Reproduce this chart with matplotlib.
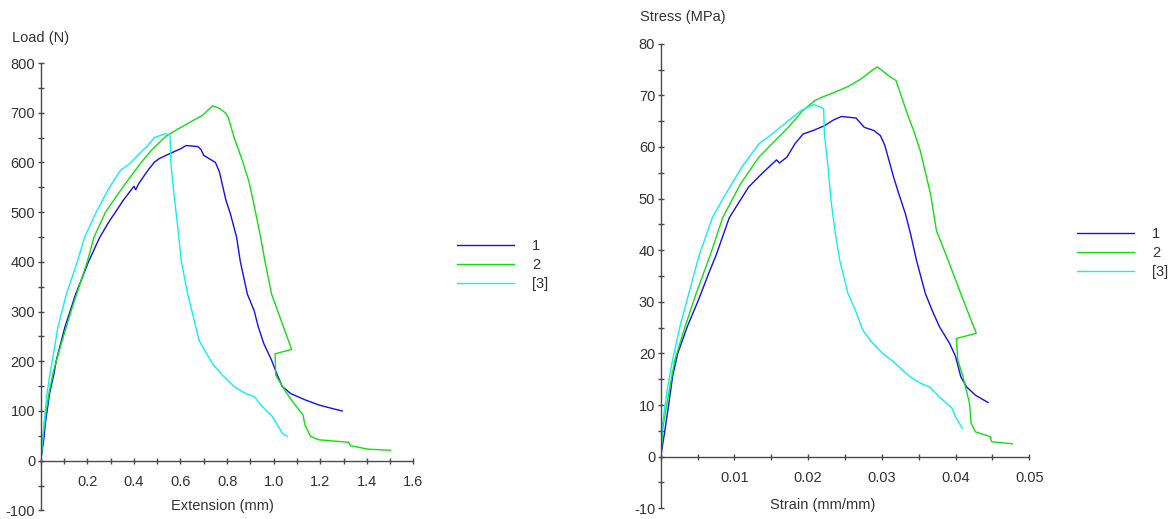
import matplotlib
matplotlib.use("Agg")
import matplotlib.pyplot as plt
from matplotlib.ticker import MultipleLocator

plt.rcParams['font.family'] = ['Liberation Sans', 'DejaVu Sans']
plt.rcParams['font.size'] = 10.5

# curva carga x extensao (3 corpos de prova)
ext1 = [0, 0.013, 0.02, 0.038, 0.057, 0.067, 0.104, 0.15, 0.205, 0.253, 0.296, 0.321, 0.353, 0.40, 0.408, 0.42,
        0.46, 0.489, 0.51, 0.555, 0.603, 0.624, 0.674, 0.688, 0.70, 0.75, 0.767, 0.795, 0.814, 0.841, 0.857, 0.887,
        0.916, 0.934, 0.958, 0.991, 1.013, 1.037, 1.073, 1.137, 1.194, 1.251, 1.294]
load1 = [0, 42, 75, 135, 175, 202, 269, 335, 400, 449, 483, 500, 523, 552, 545, 557,
         584, 601, 608, 618, 628, 634, 632, 626, 614, 600, 581, 524, 497, 449, 400, 335,
         302, 269, 235, 202, 175, 149, 135, 122, 112, 105, 100]

ext2 = [0, 0.003, 0.01, 0.024, 0.038, 0.056, 0.088, 0.131, 0.178, 0.20, 0.228, 0.278, 0.331, 0.374, 0.431, 0.474,
        0.538, 0.581, 0.645, 0.695, 0.738, 0.766, 0.792, 0.806, 0.83, 0.866, 0.894, 0.916, 0.944, 0.963, 0.991,
        1.077, 1.006, 1.009, 1.051, 1.087, 1.126, 1.134, 1.158, 1.194, 1.322, 1.33, 1.408, 1.501]
load2 = [0, 9, 49, 102, 142, 182, 235, 302, 369, 400, 449, 500, 536, 564, 600, 624,
         653, 665, 682, 695, 714, 709, 700, 689, 650, 603, 561, 514, 449, 400, 335,
         224, 215, 172, 139, 115, 92, 72, 49, 42, 37, 30, 23, 21]

ext3 = [0, 0.013, 0.027, 0.038, 0.05, 0.074, 0.11, 0.157, 0.188, 0.238, 0.295, 0.342, 0.381, 0.424, 0.459, 0.488,
        0.535, 0.555, 0.559, 0.569, 0.585, 0.604, 0.631, 0.659, 0.68, 0.695, 0.738, 0.78, 0.83, 0.88, 0.916,
        0.951, 0.994, 1.016, 1.037, 1.058]
load3 = [0, 69, 135, 169, 202, 269, 335, 400, 449, 500, 550, 584, 597, 618, 634, 650,
         658, 655, 597, 550, 483, 400, 335, 282, 242, 229, 195, 172, 149, 135, 129,
         109, 89, 72, 55, 49]

# curva tensao x deformacao
strain1 = [0, 0.0005, 0.0011, 0.0016, 0.0023, 0.0036, 0.0051, 0.0065, 0.0075, 0.0093, 0.0119, 0.0137, 0.0157,
           0.0161, 0.0171, 0.0182, 0.0193, 0.0207, 0.0222, 0.0234, 0.0245, 0.0265, 0.0276, 0.0289, 0.0298, 0.0304,
           0.0316, 0.0323, 0.0332, 0.0339, 0.0347, 0.0359, 0.0368, 0.0378, 0.0392, 0.04, 0.0407, 0.0415, 0.0427,
           0.0444]
stress1 = [0, 4.5, 10.3, 15.5, 20, 25.2, 30.3, 35.5, 39, 46.3, 52.2, 54.8, 57.5,
           56.9, 58, 60.6, 62.5, 63.2, 64.1, 65.2, 65.9, 65.6, 63.8, 63.2, 62.2, 60.3,
           54.1, 50.9, 47, 43.1, 38, 31.6, 28.4, 25.2, 21.9, 19.4, 15.5, 13.5, 11.9,
           10.5]

strain2 = [0, 0.0003, 0.0011, 0.0019, 0.0033, 0.0048, 0.0067, 0.0084, 0.0108, 0.0133, 0.0155, 0.0173, 0.0193,
           0.0209, 0.0218, 0.0236, 0.0254, 0.0272, 0.0289, 0.0294, 0.0303, 0.0312, 0.0319, 0.0336, 0.0343, 0.0352,
           0.0366, 0.0374, 0.039, 0.0407, 0.0428, 0.0401, 0.0403, 0.041, 0.0419, 0.0421, 0.0427, 0.0447, 0.0449,
           0.0477]
stress2 = [0, 5.8, 12.3, 18.7, 25.2, 31.6, 39, 46.3, 52.8, 58, 61.2, 63.8, 67.1,
           69, 69.6, 70.6, 71.7, 73.2, 75.1, 75.5, 74.5, 73.5, 72.9, 65.8, 63.2, 59.3,
           50.9, 43.8, 38, 31.6, 23.9, 22.9, 18.7, 15.5, 10.3, 6.5, 4.8, 3.9, 2.9,
           2.5]

strain3 = [0, 0.0002, 0.0008, 0.0016, 0.0026, 0.0038, 0.0052, 0.007, 0.0088, 0.011, 0.0133, 0.0151, 0.0173,
           0.0191, 0.0207, 0.0216, 0.0221, 0.0222, 0.0227, 0.0231, 0.0237, 0.0243, 0.0254, 0.0264, 0.0274, 0.0288,
           0.0301, 0.0313, 0.0328, 0.0338, 0.0353, 0.0365, 0.0378, 0.0395, 0.04, 0.0409]
stress3 = [0, 5.8, 12.3, 18.7, 25.2, 31.6, 39, 46.3, 50.9, 56.1, 60.6, 62.5, 65.1,
           67.1, 68.2, 67.8, 67.4, 62.5, 56.1, 49.6, 43.1, 37.9, 31.6, 28.4, 24.5, 21.9,
           20, 18.7, 16.8, 15.5, 14.2, 13.5, 11.6, 9.4, 7.7, 5.5]

rotulos = ['1', '2', '[3]']
cores = ['#1010f0', '#10e010', '#10f0f0']

COR_EIXO = '#4a4a4a'
COR_TEXTO = '#333333'


def estilo_eixos(ax, xmax, xmaior, xmenor, ymin, ymax, ymaior, ymenor, fmt):
    ax.set_xlim(0, xmax)
    ax.set_ylim(ymin, ymax)
    ax.spines['top'].set_visible(False)
    ax.spines['right'].set_visible(False)
    ax.spines['bottom'].set_position(('data', 0))
    for s in ('left', 'bottom'):
        ax.spines[s].set_color(COR_EIXO)
        ax.spines[s].set_linewidth(1.0)
    ax.xaxis.set_major_locator(MultipleLocator(xmaior))
    ax.xaxis.set_minor_locator(MultipleLocator(xmenor))
    ax.yaxis.set_major_locator(MultipleLocator(ymaior))
    ax.yaxis.set_minor_locator(MultipleLocator(ymenor))
    ax.tick_params(which='both', direction='inout', length=4, width=1, colors=COR_EIXO,
                   labelcolor=COR_TEXTO, labelsize=10.5)
    ax.tick_params(axis='x', which='both', pad=8)
    ax.tick_params(axis='y', which='both', pad=2)
    ax.xaxis.set_major_formatter(plt.FuncFormatter(lambda v, p: '' if abs(v) < 1e-12 else fmt.format(v)))
    ax.yaxis.set_major_formatter(plt.FuncFormatter(lambda v, p: '{:.0f}'.format(v)))


def legenda(ax, x_px, y_px):
    ax.legend(loc='center left', bbox_to_anchor=(x_px / 1173, 1 - y_px / 519), bbox_transform=fig.transFigure,
              frameon=False, handlelength=3.9, handletextpad=1.25, labelspacing=0.32, fontsize=10.5,
              labelcolor=COR_TEXTO)


fig = plt.figure(figsize=(11.73, 5.19), dpi=100)

ax1 = fig.add_axes([0.0347, 0.0166, 0.3178, 0.862])
for x, y, c, r in zip([ext1, ext2, ext3], [load1, load2, load3], cores, rotulos):
    ax1.plot(x, y, color=c, lw=1.0, label=r)
estilo_eixos(ax1, 1.6, 0.2, 0.1, -100, 800, 100, 50, '{:.1f}')
fig.text(12 / 1173, 1 - 38 / 519, 'Load (N)', color=COR_TEXTO, fontsize=10.5, va='center')
fig.text(222 / 1173, 1 - 506 / 519, 'Extension (mm)', color=COR_TEXTO, fontsize=10.5, ha='center', va='center')
legenda(ax1, 444, 265)

ax2 = fig.add_axes([0.5633, 0.0206, 0.3142, 0.8952])
for x, y, c, r in zip([strain1, strain2, strain3], [stress1, stress2, stress3], cores, rotulos):
    ax2.plot(x, y, color=c, lw=1.0, label=r)
estilo_eixos(ax2, 0.05, 0.01, 0.005, -10, 80, 10, 5, '{:.2f}')
fig.text(640 / 1173, 1 - 17 / 519, 'Stress (MPa)', color=COR_TEXTO, fontsize=10.5, va='center')
fig.text(823 / 1173, 1 - 505 / 519, 'Strain (mm/mm)', color=COR_TEXTO, fontsize=10.5, ha='center', va='center')
legenda(ax2, 1064, 253)

fig.savefig('out.png', dpi=100)
